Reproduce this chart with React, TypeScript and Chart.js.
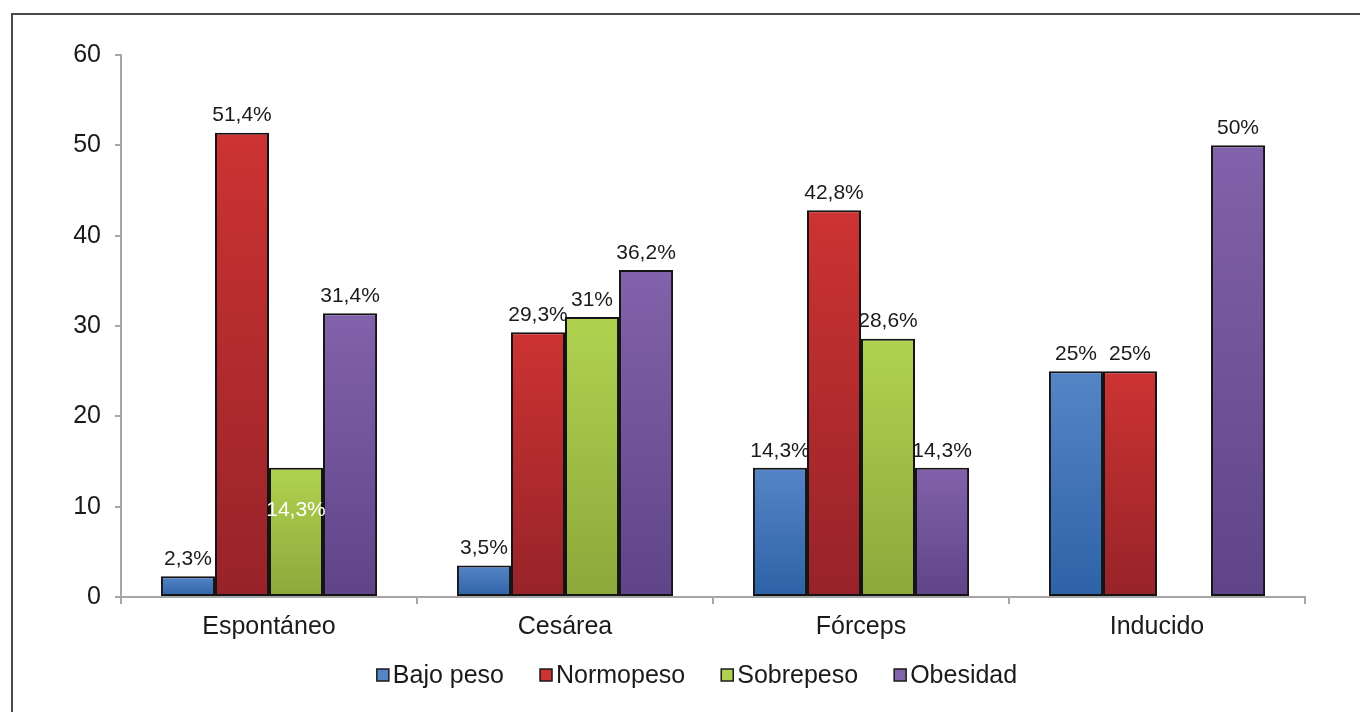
import React, { useEffect, useRef } from "react";
import { Chart, registerables } from "chart.js";

Chart.register(...registerables);

const categories = ["Espontáneo", "Cesárea", "Fórceps", "Inducido"];
const seriesNames = ["Bajo peso", "Normopeso", "Sobrepeso", "Obesidad"];
const bajoPeso = [2.3, 3.5, 14.3, 25];
const normopeso = [51.4, 29.3, 42.8, 25];
const sobrepeso = [14.3, 31, 28.6, null];
const obesidad = [31.4, 36.2, 14.3, 50];
const yTicks = [0, 10, 20, 30, 40, 50, 60];
// labels drawn inside the bar in white: [datasetIndex, dataIndex]
const insideLabels = [[2, 0]];

const gradients = [
  ["#5585c7", "#2d62a6"],
  ["#cd3332", "#962329"],
  ["#b0d250", "#8ca83b"],
  ["#8262aa", "#5f4488"],
];

const FONT = "'Liberation Sans', Arial, sans-serif";

function fmt(v: number) {
  return String(v).replace(".", ",") + "%";
}

const labelPlugin = {
  id: "valueLabels",
  afterDatasetsDraw(chart: any) {
    const ctx = chart.ctx;
    ctx.save();
    ctx.font = `21px ${FONT}`;
    ctx.textAlign = "center";
    ctx.textBaseline = "middle";
    chart.data.datasets.forEach((ds: any, di: number) => {
      const meta = chart.getDatasetMeta(di);
      meta.data.forEach((bar: any, i: number) => {
        const v = ds.data[i];
        if (v === null || v === undefined) return;
        const inside = insideLabels.some((p) => p[0] === di && p[1] === i);
        if (inside) {
          ctx.fillStyle = "#ffffff";
          ctx.fillText(fmt(v), bar.x, bar.y + 42);
        } else {
          ctx.fillStyle = "#1a1a1a";
          ctx.fillText(fmt(v), bar.x, bar.y - 17);
        }
      });
    });
    ctx.restore();
  },
};

const legendPlugin = {
  id: "customLegend",
  afterDraw(chart: any) {
    const ctx = chart.ctx;
    const area = chart.chartArea;
    ctx.save();
    ctx.font = `25px ${FONT}`;
    ctx.textBaseline = "middle";
    ctx.textAlign = "left";
    const box = 12;
    const gap = 4;
    const itemGap = 36;
    const widths = seriesNames.map((n) => ctx.measureText(n).width);
    const total =
      widths.reduce((a, b) => a + b, 0) + seriesNames.length * (box + gap) + (seriesNames.length - 1) * itemGap;
    const cx = (area.left + area.right) / 2 - 16;
    let x = cx - total / 2;
    const y = 675;
    seriesNames.forEach((n, i) => {
      ctx.fillStyle = gradients[i][0];
      ctx.fillRect(x, y - box / 2, box, box);
      ctx.strokeStyle = "#1a1a1a";
      ctx.lineWidth = 1.5;
      ctx.strokeRect(x, y - box / 2, box, box);
      ctx.fillStyle = "#1a1a1a";
      ctx.fillText(n, x + box + gap, y + 1);
      x += box + gap + widths[i] + itemGap;
    });
    ctx.restore();
  },
};

function makeGradient(idx: number) {
  return (c: any) => {
    const chart = c.chart;
    const ys = chart.scales && chart.scales.y;
    const v = c.raw;
    if (!ys || v === null || v === undefined || !chart.chartArea) return gradients[idx][0];
    const top = ys.getPixelForValue(v);
    const bottom = ys.getPixelForValue(0);
    if (!isFinite(top) || !isFinite(bottom) || top === bottom) return gradients[idx][0];
    const g = chart.ctx.createLinearGradient(0, top, 0, bottom);
    g.addColorStop(0, gradients[idx][0]);
    g.addColorStop(1, gradients[idx][1]);
    return g;
  };
}

export default function App() {
  const ref = useRef<HTMLCanvasElement>(null);
  useEffect(() => {
    if (!ref.current) return;
    const seriesData = [bajoPeso, normopeso, sobrepeso, obesidad];
    const chart = new Chart(ref.current, {
      type: "bar",
      data: {
        labels: categories,
        datasets: seriesNames.map((name, i) => ({
          label: name,
          data: seriesData[i] as any,
          backgroundColor: makeGradient(i),
          borderColor: "#141414",
          borderWidth: 2,
          borderSkipped: false,
          barPercentage: 1,
          categoryPercentage: 0.73,
        })),
      },
      options: {
        animation: false,
        responsive: false,
        maintainAspectRatio: false,
        layout: { padding: { left: 0, right: 55, top: 55, bottom: 55 } },
        plugins: { legend: { display: false }, tooltip: { enabled: false } },
        scales: {
          x: {
            grid: {
              display: true,
              drawOnChartArea: false,
              drawTicks: true,
              tickLength: 7,
              color: "#a6a6a6",
              lineWidth: 2,
              offset: true,
            },
            border: { display: true, color: "#a6a6a6", width: 2 },
            ticks: { color: "#1a1a1a", font: { family: FONT, size: 25 }, padding: 8 },
            afterFit: (s: any) => {
              s.height = 60;
            },
          },
          y: {
            min: 0,
            max: 60,
            afterBuildTicks: (s: any) => {
              s.ticks = yTicks.map((v) => ({ value: v }));
            },
            grid: {
              display: true,
              drawOnChartArea: false,
              drawTicks: true,
              tickLength: 6,
              color: "#a6a6a6",
              lineWidth: 2,
            },
            border: { display: true, color: "#a6a6a6", width: 2 },
            ticks: { color: "#1a1a1a", font: { family: FONT, size: 25 }, padding: 14 },
            afterFit: (s: any) => {
              s.width = 121;
            },
          },
        },
      },
      plugins: [labelPlugin, legendPlugin],
    });
    return () => chart.destroy();
  }, []);

  return (
    <div style={{ position: "absolute", left: 0, top: 0, width: 1360, height: 712, background: "#fff", overflow: "hidden" }}>
      <div
        style={{
          position: "absolute",
          left: 11,
          top: 13,
          width: 1400,
          height: 800,
          border: "2px solid #4a4a4a",
          boxSizing: "border-box",
        }}
      />
      <canvas ref={ref} width={1360} height={712} style={{ position: "absolute", left: 0, top: 0 }} />
    </div>
  );
}
